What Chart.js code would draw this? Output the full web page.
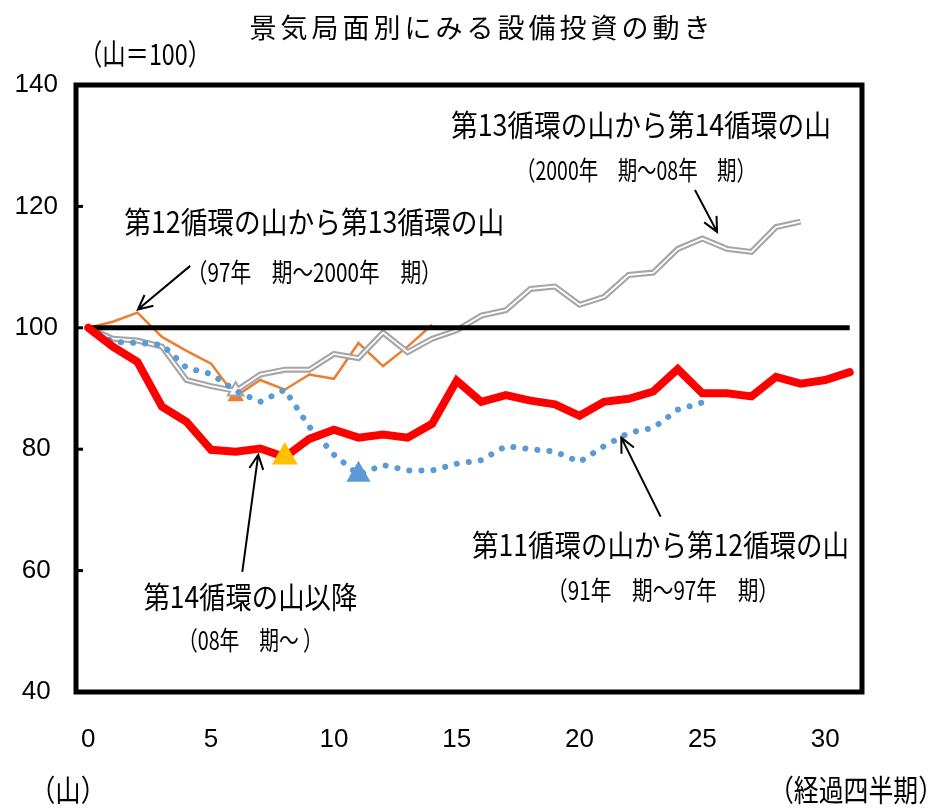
<!DOCTYPE html>
<html>
<head>
<meta charset="utf-8">
<script src="https://cdn.jsdelivr.net/npm/chart.js@4.4.1/dist/chart.umd.min.js"></script>
<style>
  body { margin: 0; background: #fff; }
</style>
</head>
<body>
<canvas id="myChart" width="944" height="808"></canvas>
<script>
// quarters after the peak (x), index = quarter
var xTicks = [0, 5, 10, 15, 20, 25, 30];

// 14th cycle peak and after (08年 期～)
var cycle14 = [100, 96.9, 94.4, 87.0, 84.5, 79.9, 79.6, 80.1, 78.7, 81.7, 83.2, 81.9, 82.4, 81.9, 84.2, 91.3,
               87.8, 88.9, 88.0, 87.4, 85.5, 87.8, 88.3, 89.5, 93.2, 89.2, 89.2, 88.7, 91.9, 90.8, 91.4, 92.7];
// 13th -> 14th peak (2000年 期～08年 期)
var cycle13 = [100, 98.2, 97.9, 96.9, 91.4, 90.4, 89.6, 92.3, 93.1, 93.1, 95.7, 95.0, 99.2, 96.0, 98.2, 99.6,
               102.0, 102.9, 106.4, 106.8, 103.8, 105.1, 108.7, 109.1, 113.0, 114.7, 113.0, 112.5, 116.6, 117.5];
// 12th -> 13th peak (97年 期～2000年 期)
var cycle12 = [100, 101.0, 102.5, 98.5, 96.2, 94.1, 88.7, 91.4, 89.8, 92.3, 91.6, 97.5, 93.7, 96.9, 100.5];
// 11th -> 12th peak (91年 期～97年 期)
var cycle11 = [100, 97.7, 97.5, 97.2, 93.4, 92.4, 89.6, 87.8, 89.8, 83.7, 79.1, 75.8, 77.4, 76.5, 76.5, 77.6,
               78.2, 80.5, 80.0, 79.6, 77.9, 80.5, 82.7, 83.5, 86.5, 87.7];
// trough quarter of each cycle (triangle markers)
var trough14 = 8, trough13 = 6, trough12 = 6, trough11 = 11;
var peakLine = [100, 100];
var peakLineX = [0, 31];

function pts(arr) { return arr.map(function (v, i) { return { x: i, y: v }; }); }
function tri(arr, at, r) { return arr.map(function (v, i) { return i === at ? r : 0; }); }

// annotation texts (data coordinates) and arrows
var notes = [
  { text: '第13循環の山から第14循環の山', x: 22.5, y: 133.4, size: 30, w: 380 },
  { text: '（2000年　期～08年　期）', x: 22.3, y: 126.0, size: 26, w: 240 },
  { text: '第12循環の山から第13循環の山', x: 9.2, y: 117.5, size: 30, w: 380 },
  { text: '（97年　期～2000年　期）', x: 9.2, y: 109.2, size: 26, w: 255 },
  { text: '第14循環の山以降', x: 6.6, y: 55.7, size: 30, w: 214 },
  { text: '（08年　期～ ）', x: 6.6, y: 48.6, size: 26, w: 145 },
  { text: '第11循環の山から第12循環の山', x: 23.3, y: 64.3, size: 30, w: 377 },
  { text: '（91年　期～97年　期）', x: 23.4, y: 56.8, size: 26, w: 232 }
];
var arrows = [
  [24.7, 122.7, 25.6, 115.8],
  [4.15, 110.2, 2.02, 103.0],
  [6.27, 59.8, 6.92, 79.1],
  [23.3, 68.9, 21.7, 81.9]
];

var cjk = "'Noto Sans CJK JP', 'Noto Sans', sans-serif";
var narrow = "'Liberation Sans Narrow', 'Arial Narrow', 'Liberation Sans', sans-serif";

function fitText(ctx, text, cx, cy, size, w) {
  ctx.save();
  ctx.font = size + 'px ' + cjk;
  var m = ctx.measureText(text).width;
  var sx = w / m;
  ctx.translate(cx, cy);
  ctx.scale(sx, 1);
  ctx.textAlign = 'center';
  ctx.textBaseline = 'middle';
  ctx.fillStyle = '#000';
  ctx.fillText(text, 0, 0);
  ctx.restore();
}

var decor = {
  id: 'decor',
  afterDraw: function (chart) {
    var ctx = chart.ctx, a = chart.chartArea;
    var xs = chart.scales.x, ys = chart.scales.y;
    // frame
    ctx.save();
    ctx.strokeStyle = '#000';
    ctx.lineWidth = 5;
    ctx.strokeRect(a.left, a.top, a.right - a.left, a.bottom - a.top);
    // inner ticks on the y axis
    ctx.lineWidth = 3;
    ys.ticks.forEach(function (t) {
      var py = ys.getPixelForValue(t.value);
      ctx.beginPath();
      ctx.moveTo(a.left, py);
      ctx.lineTo(a.left + 7, py);
      ctx.stroke();
    });
    // arrows
    ctx.lineWidth = 2;
    arrows.forEach(function (ar) {
      var x1 = xs.getPixelForValue(ar[0]), y1 = ys.getPixelForValue(ar[1]);
      var x2 = xs.getPixelForValue(ar[2]), y2 = ys.getPixelForValue(ar[3]);
      var ang = Math.atan2(y2 - y1, x2 - x1);
      ctx.beginPath();
      ctx.moveTo(x1, y1);
      ctx.lineTo(x2, y2);
      ctx.moveTo(x2 - 16 * Math.cos(ang - 0.45), y2 - 16 * Math.sin(ang - 0.45));
      ctx.lineTo(x2, y2);
      ctx.lineTo(x2 - 16 * Math.cos(ang + 0.45), y2 - 16 * Math.sin(ang + 0.45));
      ctx.stroke();
    });
    ctx.restore();

    notes.forEach(function (n) {
      fitText(ctx, n.text, xs.getPixelForValue(n.x), ys.getPixelForValue(n.y), n.size, n.w);
    });

    // title and unit labels
    ctx.save();
    ctx.fillStyle = '#000';
    ctx.textAlign = 'center';
    ctx.textBaseline = 'middle';
    ctx.font = '27px ' + cjk;
    ctx.letterSpacing = '4px';
    ctx.fillText('景気局面別にみる設備投資の動き', 482, 28);
    ctx.letterSpacing = '0px';
    ctx.restore();
    fitText(ctx, '（山＝100）', 145, 54, 29, 132);
    fitText(ctx, '（山）', 68, 790, 30, 76);
    fitText(ctx, '（経過四半期）', 856, 790, 30, 174);
  }
};

var ctx = document.getElementById('myChart').getContext('2d');
var chart = new Chart(ctx, {
  type: 'line',
  data: {
    datasets: [
      {
        label: '第14循環の山以降',
        data: pts(cycle14),
        borderColor: '#FF0000',
        borderWidth: 8,
        borderCapStyle: 'round',
        borderJoinStyle: 'miter',
        pointStyle: 'triangle',
        pointRadius: tri(cycle14, trough14, 7),
        pointBackgroundColor: '#FFC000',
        pointBorderColor: '#FFC000',
        order: 1
      },
      {
        label: '山',
        data: peakLineX.map(function (x, i) { return { x: x, y: peakLine[i] }; }),
        borderColor: '#000',
        borderWidth: 5,
        pointRadius: 0,
        order: 2
      },
      {
        label: '第11循環の山から第12循環の山',
        data: pts(cycle11),
        borderColor: '#5B9BD5',
        borderWidth: 6,
        borderDash: [0.1, 12],
        borderCapStyle: 'round',
        pointStyle: 'triangle',
        pointRadius: tri(cycle11, trough11, 8),
        pointBackgroundColor: '#5B9BD5',
        pointBorderColor: '#5B9BD5',
        order: 3
      },
      {
        label: '第13循環の山から第14循環の山 inner',
        data: pts(cycle13),
        borderColor: '#FFFFFF',
        borderWidth: 1.8,
        pointRadius: 0,
        order: 4
      },
      {
        label: '第13循環の山から第14循環の山',
        data: pts(cycle13),
        borderColor: '#A5A5A5',
        borderWidth: 6,
        pointStyle: 'triangle',
        pointRadius: tri(cycle13, trough13, 9),
        pointBackgroundColor: '#FFFFFF',
        pointBorderColor: '#A5A5A5',
        pointBorderWidth: 2,
        order: 5
      },
      {
        label: '第12循環の山から第13循環の山',
        data: pts(cycle12),
        borderColor: '#ED7D31',
        borderWidth: 2.5,
        pointStyle: 'triangle',
        pointRadius: tri(cycle12, trough12, 7),
        pointBackgroundColor: '#ED7D31',
        pointBorderColor: '#ED7D31',
        order: 6
      }
    ]
  },
  options: {
    responsive: false,
    animation: false,
    devicePixelRatio: 1,
    layout: { padding: { top: 85, right: 82, bottom: 0, left: 0 } },
    plugins: {
      legend: { display: false },
      tooltip: { enabled: false }
    },
    scales: {
      x: {
        type: 'linear',
        min: -0.5,
        max: 31.5,
        afterBuildTicks: function (s) { s.ticks = xTicks.map(function (v) { return { value: v }; }); },
        afterFit: function (s) { s.height = 116; },
        grid: { display: false, drawTicks: false },
        border: { display: false },
        ticks: { padding: 32, color: '#000', font: { family: narrow, size: 26 } }
      },
      y: {
        min: 40,
        max: 140,
        afterFit: function (s) { s.width = 76; },
        grid: { display: false, drawTicks: false },
        border: { display: false },
        ticks: { stepSize: 20, padding: 18, crossAlign: 'center', color: '#000', font: { family: narrow, size: 26 } }
      }
    }
  },
  plugins: [decor]
});
</script>
</body>
</html>
